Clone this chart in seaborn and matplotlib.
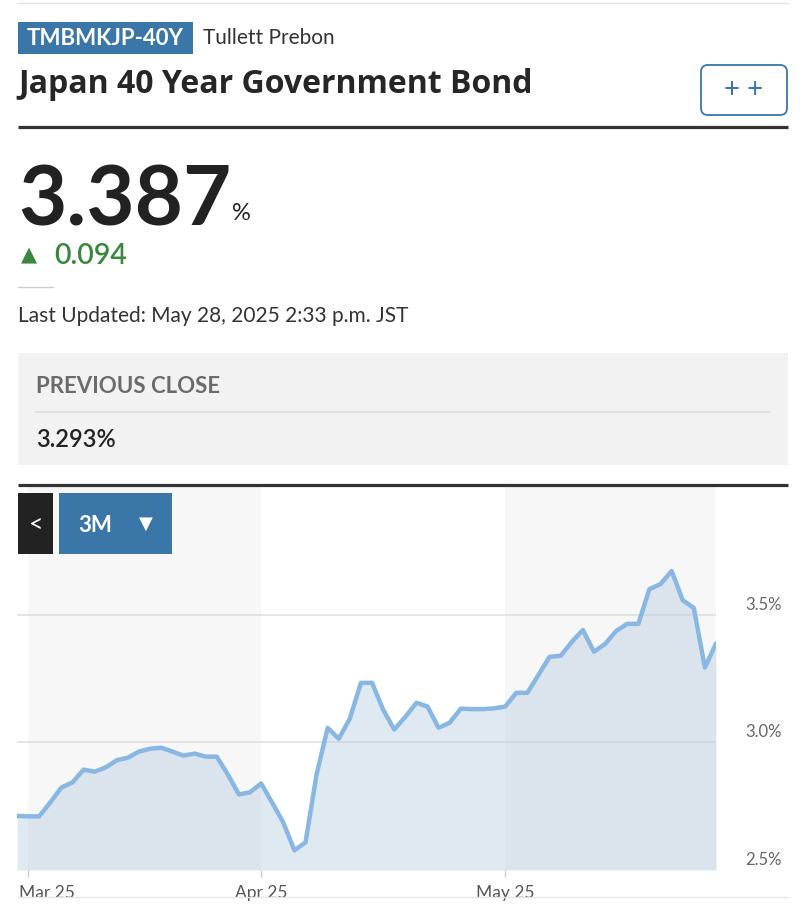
import numpy as np
import pandas as pd
import matplotlib.pyplot as plt
import seaborn as sns
from matplotlib.patches import Rectangle, FancyBboxPatch
from matplotlib.transforms import ScaledTranslation, blended_transform_factory

# -----------------------------------------------------------------------------
# DATA (one point per weekday)
# -----------------------------------------------------------------------------
start_date = '2025-02-28'
end_date = '2025-05-28'
yields = [
    2.712, 2.710, 2.710, 2.765, 2.823, 2.843, 2.893, 2.885, 2.902, 2.930,
    2.940, 2.964, 2.975, 2.979, 2.964, 2.948, 2.956, 2.944, 2.944, 2.874,
    2.796, 2.804, 2.839, 2.764, 2.686, 2.577, 2.608, 2.874, 3.057, 3.014,
    3.093, 3.233, 3.233, 3.128, 3.050, 3.100, 3.155, 3.140, 3.057, 3.077,
    3.132, 3.130, 3.130, 3.133, 3.140, 3.194, 3.194, 3.264, 3.335, 3.339,
    3.393, 3.440, 3.355, 3.385, 3.436, 3.464, 3.464, 3.600, 3.620, 3.671,
    3.557, 3.526, 3.293, 3.387,
]
month_labels = ['Mar 25', 'Apr 25', 'May 25']
y_ticks = [2.5, 3.0, 3.5]
y_tick_labels = ['2.5%', '3.0%', '3.5%']

symbol = 'TMBMKJP-40Y'
source = 'Tullett Prebon'
title = 'Japan 40 Year Government Bond'
last_value = '3.387'
change = '0.094'
updated = 'Last Updated: May 28, 2025 2:33 p.m. JST'
prev_close = '3.293%'

dates = pd.bdate_range(start_date, end_date)
df = pd.DataFrame({'date': dates, 'yield': yields})
df['idx'] = np.arange(len(df))
# first trading day of each month -> tick positions
month_start = df.groupby(df['date'].dt.to_period('M'))['idx'].min().values[1:]

# -----------------------------------------------------------------------------
# STYLE
# -----------------------------------------------------------------------------
sns.set_theme(style="white")
plt.rcParams['font.family'] = ['Lato', 'DejaVu Sans']

BLUE = '#3a76a8'
DARK = '#262626'
LINE = '#88b7e3'
FILL = '#b9cfe3'
BAND = '#f7f7f7'
GRID = '#e0e0e0'
GREEN = '#3b873d'

W, H = 805, 921
fig = plt.figure(figsize=(W / 100, H / 100), dpi=100)

# -----------------------------------------------------------------------------
# CHART
# -----------------------------------------------------------------------------
ax_l, ax_r, ax_t, ax_b = 17, 716, 487, 870
ax = fig.add_axes([ax_l / W, (H - ax_b) / H, (ax_r - ax_l) / W, (ax_b - ax_t) / H])

n = len(df)
ax.set_xlim(0, n - 1)
ax.set_ylim(2.5, 4.0)

# alternate month bands
bands = list(month_start) + [n - 1]
for k in range(0, len(bands) - 1, 2):
    ax.axvspan(bands[k], bands[k + 1], color=BAND, lw=0, zorder=0)

for yv in y_ticks[1:]:
    ax.axhline(yv, color=GRID, lw=1.2, zorder=1)

ax.fill_between(df['idx'], df['yield'], 2.5, color=FILL, alpha=0.45, lw=0, zorder=2)
sns.lineplot(data=df, x='idx', y='yield', ax=ax, color=LINE, linewidth=3.2, zorder=3)

ax.set_xlabel('')
ax.set_ylabel('')
ax.set_yticks([])
ax.set_xticks(month_start)
ax.set_xticklabels(month_labels)
ax.tick_params(axis='x', length=5, width=1, color='#cccccc', pad=6,
               labelsize=12.5, labelcolor='#555555', bottom=True)
first = ax.get_xticklabels()[0]
first.set_horizontalalignment('left')
first.set_transform(first.get_transform() + ScaledTranslation(-0.09, 0, fig.dpi_scale_trans))
for s in ax.spines.values():
    s.set_visible(False)

ytrans = blended_transform_factory(ax.transAxes, ax.transData)
for yv, lab in zip(y_ticks, y_tick_labels):
    ax.text((782 - ax_l) / (ax_r - ax_l), yv, lab, transform=ytrans + ScaledTranslation(0, 0.10, fig.dpi_scale_trans),
            ha='right', va='center', fontsize=12, color='#666666')

# -----------------------------------------------------------------------------
# HEADER (overlay in pixel coordinates)
# -----------------------------------------------------------------------------
ov = fig.add_axes([0, 0, 1, 1], facecolor='none')
ov.set_xlim(0, W)
ov.set_ylim(H, 0)
ov.axis('off')

ov.plot([18, 788], [3, 3], color='#e3e3e3', lw=1)

ov.add_patch(Rectangle((18, 22), 175, 32, color=BLUE, lw=0))
ov.text(105.5, 38.5, symbol, color='white', fontsize=16, fontweight='bold', ha='center', va='center')
ov.text(203, 38.5, source, color='#333333', fontsize=15, ha='left', va='center')

ov.text(18, 93, title, color=DARK, fontsize=23, fontweight='bold', ha='left', va='baseline',
        family=['Open Sans', 'DejaVu Sans'])
ov.add_patch(FancyBboxPatch((701, 65), 86, 50, boxstyle='round,pad=0,rounding_size=7',
                            fc='white', ec=BLUE, lw=1.3))
ov.text(744, 90, '+ +', color=BLUE, fontsize=20, ha='center', va='center')

ov.plot([18, 788], [127.5, 127.5], color='#333333', lw=2.3, solid_capstyle='butt')

ov.text(18, 225, last_value, color='#222222', fontsize=60, fontweight='bold', ha='left', va='baseline')
ov.text(232, 220, '%', color='#222222', fontsize=17, ha='left', va='baseline')

ov.text(29, 255, '▲', color=GREEN, fontsize=15, ha='center', va='center')
ov.text(54, 264, change, color=GREEN, fontsize=20.5, fontweight='semibold', ha='left', va='baseline')

ov.plot([18, 53], [287, 287], color='#cccccc', lw=1)
ov.text(18, 322, updated, color='#333333', fontsize=15, ha='left', va='baseline')

ov.add_patch(Rectangle((18, 353), 770, 112, color='#f2f2f2', lw=0))
ov.text(36, 393, 'PREVIOUS CLOSE', color='#6b6b6b', fontsize=16, fontweight='bold', ha='left', va='baseline')
ov.plot([36, 770], [411.5, 411.5], color='#dddddd', lw=1.3)
ov.text(36, 447, prev_close, color='#222222', fontsize=17, fontweight='semibold', ha='left', va='baseline')

ov.plot([18, 788], [485, 485], color='#333333', lw=2.3, solid_capstyle='butt')

ov.add_patch(Rectangle((18, 493), 35, 61, color='#222222', lw=0))
ov.text(36, 524, '<', color='white', fontsize=18, ha='center', va='center')
ov.add_patch(Rectangle((59, 493), 113, 61, color=BLUE, lw=0))
ov.text(78, 525, '3M', color='white', fontsize=16, fontweight='bold', ha='left', va='center')
ov.text(146, 524, '▼', color='white', fontsize=13, ha='center', va='center')

ov.plot([18, 788], [897, 897], color='#e6e6e6', lw=1)

plt.savefig('out.png', dpi=100)
